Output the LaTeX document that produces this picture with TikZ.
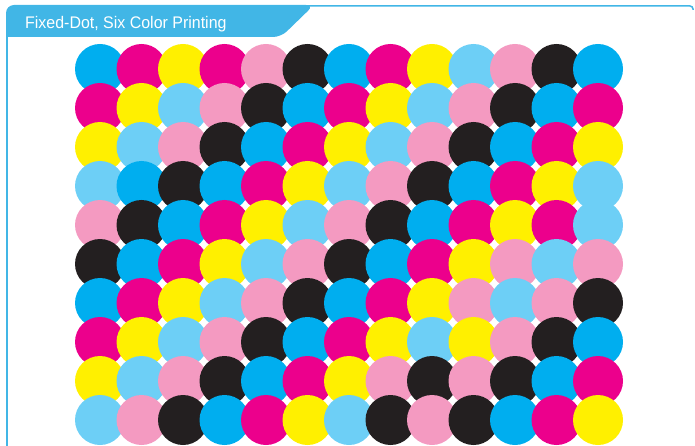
\documentclass[tikz,border=0pt]{standalone}
\usepackage{xcolor}
\usepackage{fontspec}
\usepackage{tikz}
\newfontfamily\tabfont[FakeStretch=0.95]{Liberation Sans}
\definecolor{tabblue}{HTML}{41B6E6}
\definecolor{dotC}{HTML}{00AEEF}
\definecolor{dotM}{HTML}{EC008C}
\definecolor{dotY}{HTML}{FFF000}
\definecolor{dotK}{HTML}{231F20}
\definecolor{dotc}{HTML}{6DCFF6}
\definecolor{dotm}{HTML}{F49AC1}

\begin{document}
\begin{tikzpicture}[
  x=1pt, y=-1pt,
  dot/.style={circle, inner sep=0pt, minimum size=50pt},
  frame/.style={draw=tabblue, line width=1.5pt}
]
\useasboundingbox (0,0) rectangle (695,446);
\fill[tabblue] (6,37) [rounded corners=8pt] -- (6,5) -- (314,5) -- (281,37) [sharp corners] -- cycle;
\draw[frame] (7,446) -- (7,36);
\draw[frame, rounded corners=3pt] (300,6) -- (693,6) -- (693,10);
\node[anchor=base west, inner sep=0pt, text=white, font=\tabfont\fontsize{16.8}{18}\selectfont] (title) at (25,29) {Fixed-Dot, Six Color Printing};
\foreach \row [count=\j] in {
  {C,M,Y,M,m,K,C,M,Y,c,m,K,C},
  {M,Y,c,m,K,C,M,Y,c,m,K,C,M},
  {Y,c,m,K,C,M,Y,c,m,K,C,M,Y},
  {c,C,K,C,M,Y,c,m,K,C,M,Y,c},
  {m,K,C,M,Y,c,m,K,C,M,Y,M,c},
  {K,C,M,Y,c,m,K,C,M,Y,m,c,m},
  {C,M,Y,c,m,K,C,M,Y,m,c,m,K},
  {M,Y,c,m,K,C,M,Y,c,Y,m,K,C},
  {Y,c,m,K,C,M,Y,m,K,m,K,C,M},
  {c,m,K,C,M,Y,c,K,m,K,C,M,Y}}
  \foreach \ink [count=\i] in \row
    \node[dot, fill=dot\ink] (dot-\j-\i) at ({100+41.5*(\i-1)}, {69+39*(\j-1)}) {};
\end{tikzpicture}
\end{document}
